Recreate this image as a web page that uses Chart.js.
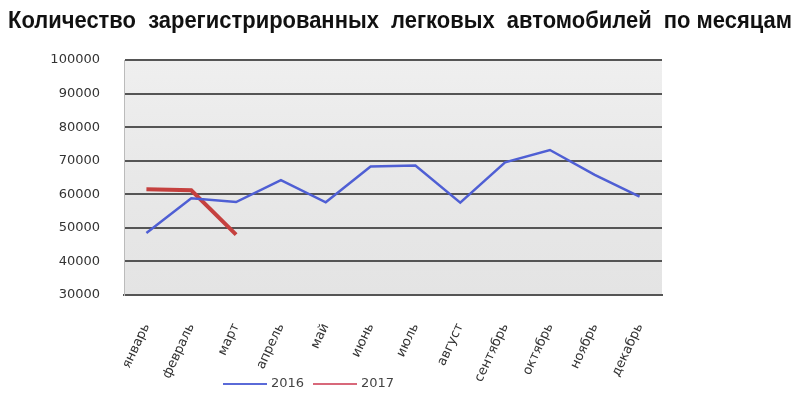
<!DOCTYPE html>
<html>
<head>
<meta charset="utf-8">
<script src="https://cdn.jsdelivr.net/npm/chart.js@4"></script>
<style>
  body { margin: 0; background: #fff; }
  #wrap { width: 800px; height: 401px; position: relative; }
</style>
</head>
<body>
<div id="wrap"><canvas id="line"></canvas></div>
<script>
const months = ["январь", "февраль", "март", "апрель", "май", "июнь", "июль", "август", "сентябрь", "октябрь", "ноябрь", "декабрь"];
const cars2016 = [48500, 58800, 57700, 64200, 57600, 68300, 68600, 57500, 69500, 73200, 65800, 59300];
const cars2017 = [61500, 61200, 48000];
const yTicks = [30000, 40000, 50000, 60000, 70000, 80000, 90000, 100000];
const seriesNames = ["2016", "2017"];
const chartTitle = "Количество  зарегистрированных  легковых  автомобилей  по месяцам";

// light grey backdrop of the plot area (the original has a photo there)
const plotBg = {
  id: "plotBg",
  beforeDraw(chart) {
    const { ctx, chartArea: a } = chart;
    const g = ctx.createLinearGradient(0, a.top, 0, a.bottom);
    g.addColorStop(0, "#efefef");
    g.addColorStop(0.5, "#e8e8e8");
    g.addColorStop(1, "#e4e4e4");
    ctx.save();
    ctx.fillStyle = g;
    ctx.fillRect(a.left, a.top, a.right - a.left, a.bottom - a.top);
    ctx.restore();
  },
};

// title runs across the whole width, wider than the plot
const wideTitle = {
  id: "wideTitle",
  afterDraw(chart) {
    const ctx = chart.ctx;
    ctx.save();
    ctx.font = "bold 23px 'Liberation Sans', Arial, sans-serif";
    ctx.fillStyle = "#111";
    ctx.textBaseline = "middle";
    ctx.fillText(chartTitle, 8, 22, 784);
    ctx.restore();
  },
};

// legend sits under the labels, a bit left of centre
const bottomLegend = {
  id: "bottomLegend",
  afterDraw(chart) {
    const ctx = chart.ctx;
    let x = 223;
    const y = 384;
    ctx.save();
    ctx.font = "13px 'DejaVu Sans'";
    ctx.textBaseline = "middle";
    chart.data.datasets.forEach((ds) => {
      ctx.strokeStyle = ds.legendColor;
      ctx.lineWidth = 2;
      ctx.beginPath();
      ctx.moveTo(x, y);
      ctx.lineTo(x + 44, y);
      ctx.stroke();
      ctx.fillStyle = "#444";
      ctx.fillText(ds.label, x + 48, y);
      x += 90;
    });
    ctx.restore();
  },
};

let lineChart = new Chart(document.querySelector("#line"), {
  type: "line",
  data: {
    labels: months,
    datasets: [
      {
        label: seriesNames[0],
        data: cars2016,
        borderColor: "#4f5fd4",
        legendColor: "#5a6ad8",
        borderWidth: 2.5,
        pointRadius: 0,
        tension: 0,
      },
      {
        label: seriesNames[1],
        data: cars2017,
        borderColor: "#c5413f",
        legendColor: "#d8687a",
        borderWidth: 4,
        pointRadius: 0,
        tension: 0,
      },
    ],
  },
  options: {
    responsive: true,
    maintainAspectRatio: false,
    animation: false,
    layout: {
      padding: { left: 8, right: 138, top: 60, bottom: 0 },
    },
    plugins: {
      legend: { display: false },
      tooltip: { enabled: false },
      title: { display: false },
    },
    scales: {
      x: {
        offset: true,
        grid: { display: false },
        border: { display: true, color: "#555", width: 2 },
        afterFit(scale) {
          scale.height = 106;
        },
        ticks: {
          color: "#333",
          font: { family: "'DejaVu Sans'", size: 13 },
          minRotation: 65,
          maxRotation: 65,
          padding: 18,
        },
      },
      y: {
        min: 30000,
        max: 100000,
        afterBuildTicks(scale) {
          scale.ticks = yTicks.map((v) => ({ value: v }));
        },
        afterFit(scale) {
          scale.width = 116;
        },
        grid: { color: "#555", lineWidth: 2, drawTicks: false },
        border: { display: true, color: "#bbb", width: 1 },
        ticks: {
          color: "#333",
          font: { family: "'DejaVu Sans'", size: 13 },
          padding: 24,
          callback: (v) => String(v),
        },
      },
    },
  },
  plugins: [plotBg, wideTitle, bottomLegend],
});
</script>
</body>
</html>
